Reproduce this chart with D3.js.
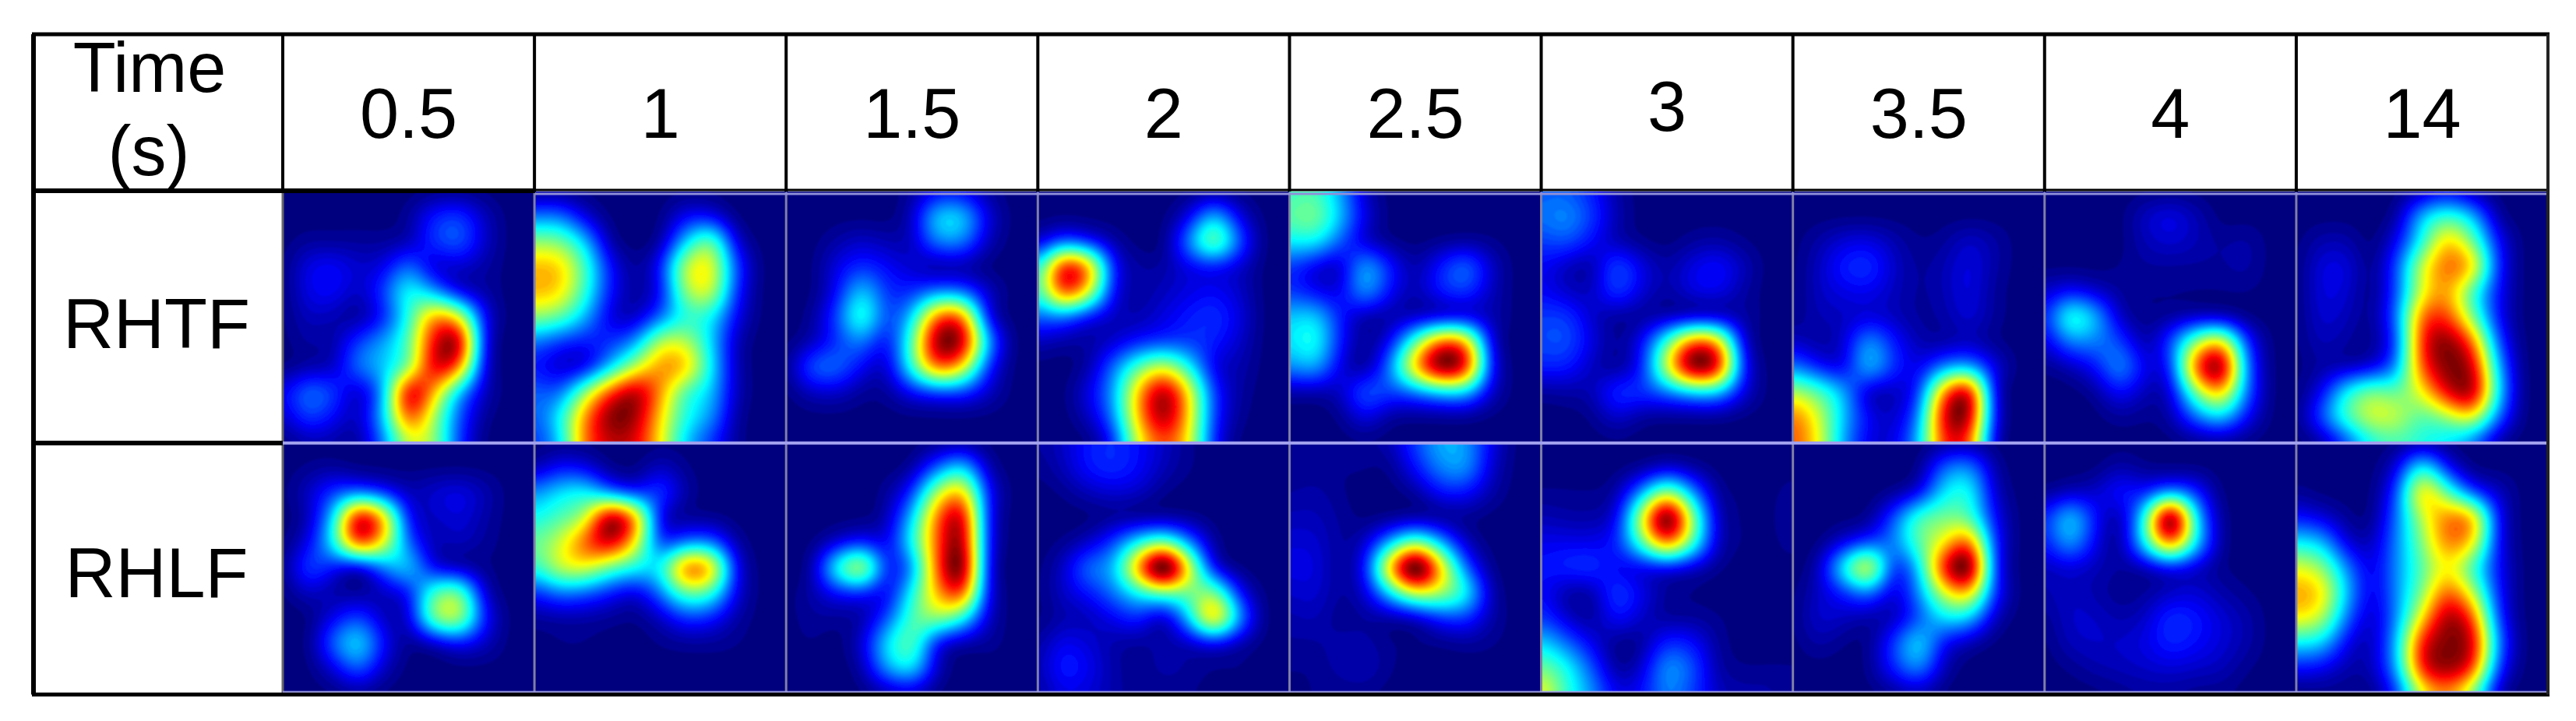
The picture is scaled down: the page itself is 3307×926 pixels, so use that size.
<!DOCTYPE html>
<html>
<head>
<meta charset="utf-8">
<script src="https://cdn.jsdelivr.net/npm/d3@7"></script>
<style>
html, body { margin: 0; padding: 0; background: #fff; }
svg { display: block; }
text { font-family: "Liberation Sans", Arial, sans-serif; fill: #000; }
</style>
</head>
<body>
<div id="vis"></div>
<script>
var times = ['0.5', '1', '1.5', '2', '2.5', '3', '3.5', '4', '14'];
var tracts = ['RHTF', 'RHLF'];

// each map: 11 rows x 11 columns of activation, 0-100
var rhtf_05 = [
[0,0,0,0,0,0,0,0,0,0,0],
[0,0,0,0,0,2,12,15,5,0,0],
[0,2,2,2,2,4,14,18,6,0,0],
[0,8,10,6,8,20,6,6,3,0,0],
[0,8,10,5,15,35,25,8,3,0,0],
[0,5,4,2,12,36,68,58,10,0,0],
[0,3,3,15,25,42,82,92,10,0,0],
[0,3,5,20,28,45,85,72,8,0,0],
[8,20,15,5,25,88,65,28,5,0,0],
[5,15,10,5,28,75,50,18,2,0,0],
[0,3,3,2,20,52,48,15,0,0,0]];
var rhtf_1 = [
[0,0,0,0,0,0,0,0,0,0,0],
[22,22,8,0,0,0,10,10,0,0,0],
[50,48,30,3,0,2,30,48,8,0,0],
[68,66,42,12,2,12,55,62,18,0,0],
[68,64,40,12,3,10,50,58,15,0,0],
[50,45,28,8,5,20,38,35,10,0,0],
[22,15,12,15,25,55,55,32,5,0,0],
[12,6,8,30,55,72,68,35,5,0,0],
[20,20,50,80,95,72,42,30,5,0,0],
[18,35,72,98,95,65,38,25,3,0,0],
[15,30,75,90,88,62,30,15,2,0,0]];
var rhtf_15 = [
[0,0,0,0,0,2,8,8,2,0,0],
[0,0,0,0,0,5,30,30,8,0,0],
[0,0,3,6,4,5,22,22,5,0,0],
[0,0,8,14,10,6,2,3,0,0,0],
[0,0,10,30,14,14,22,20,6,0,0],
[0,2,16,40,16,30,75,75,10,0,0],
[0,4,14,22,10,42,95,92,28,0,0],
[0,18,20,10,6,38,75,62,15,0,0],
[0,5,6,2,2,10,15,15,6,0,0],
[0,0,0,0,0,0,0,0,0,0,0],
[0,0,0,0,0,0,0,0,0,0,0]];
var rhtf_2 = [
[0,0,0,0,0,0,0,0,0,0,0],
[0,0,0,0,0,0,8,28,8,0,0],
[5,18,12,3,0,0,22,48,18,0,0],
[30,85,70,12,3,3,8,10,6,0,0],
[35,78,58,10,3,5,8,10,6,0,0],
[18,20,10,5,4,8,12,14,8,0,0],
[5,3,3,6,12,15,15,12,6,0,0],
[0,0,3,20,42,55,35,8,4,0,0],
[0,0,8,25,65,92,60,15,3,0,0],
[0,0,5,22,65,92,62,15,2,0,0],
[0,0,0,12,55,75,58,12,0,0,0]];
var rhtf_25 = [
[38,40,25,5,0,0,0,0,0,0,0],
[42,46,28,8,0,0,0,0,0,0,0],
[32,33,18,6,1,0,1,2,1,0,0],
[15,8,5,26,12,3,12,20,6,0,0],
[15,10,8,24,10,4,12,15,5,0,0],
[28,30,12,3,3,4,5,6,4,0,0],
[30,36,12,2,10,42,75,68,8,0,0],
[22,26,8,2,22,65,98,85,12,0,0],
[3,3,5,18,15,20,28,28,6,0,0],
[0,0,1,8,2,1,1,1,0,0,0],
[0,0,0,0,0,0,0,0,0,0,0]];
var rhtf_3 = [
[18,18,12,3,0,0,0,0,0,0,0],
[20,23,15,4,0,0,0,0,0,0,0],
[15,17,10,4,1,0,2,3,1,0,0],
[10,5,3,17,8,3,8,11,5,0,0],
[10,6,5,15,7,3,8,9,3,0,0],
[15,15,6,2,2,3,4,4,3,0,0],
[16,17,8,2,10,40,75,68,8,0,0],
[12,12,5,2,12,55,98,88,14,0,0],
[2,3,4,14,14,20,28,28,8,0,0],
[0,0,1,6,2,1,1,1,0,0,0],
[0,0,0,0,0,0,0,0,0,0,0]];
var rhtf_35 = [
[0,0,0,0,0,0,0,0,0,0,0],
[0,0,0,0,0,0,0,0,0,0,0],
[0,3,7,8,4,1,2,6,3,0,0],
[0,5,12,14,6,2,4,8,3,0,0],
[0,5,8,9,5,2,4,8,2,0,0],
[1,4,5,7,5,2,3,7,2,0,0],
[6,3,6,24,12,4,3,5,1,0,0],
[22,12,8,28,14,8,22,26,8,0,0],
[52,42,26,5,5,14,70,90,8,0,0],
[72,55,28,10,6,22,85,92,10,0,0],
[75,58,25,8,8,28,78,75,5,0,0]];
var rhtf_4 = [
[0,0,0,0,0,0,0,0,0,0,0],
[0,0,0,0,5,8,4,0,0,0,0],
[0,0,0,0,4,6,4,2,3,0,0],
[0,0,0,1,2,2,2,2,3,0,0],
[5,10,6,2,1,1,1,1,1,0,0],
[10,36,26,5,1,2,4,3,0,0,0],
[6,20,20,15,3,15,45,60,15,0,0],
[1,4,10,22,8,12,70,92,22,0,0],
[0,0,2,10,4,6,42,62,20,0,0],
[0,0,0,2,1,3,18,28,10,0,0],
[0,0,0,0,0,0,0,0,0,0,0]];
var rhtf_14 = [
[0,0,0,0,0,3,8,2,0,0,0],
[0,0,0,0,3,30,42,30,3,0,0],
[0,4,4,0,10,38,68,48,12,0,0],
[0,8,8,1,18,58,78,68,15,0,0],
[0,8,7,1,18,60,72,42,12,0,0],
[0,7,5,2,22,78,82,50,12,0,0],
[0,5,3,2,18,85,100,78,20,0,0],
[0,3,4,8,25,80,100,95,30,0,0],
[0,10,36,50,46,62,90,100,35,0,0],
[0,18,42,58,56,44,52,62,22,0,0],
[0,2,16,36,42,38,32,20,2,0,0]];
var rhlf_05 = [
[0,0,0,0,0,0,0,0,0,0,0],
[0,1,2,0,0,0,0,0,0,0,0],
[0,5,14,18,12,4,6,8,4,0,0],
[0,4,28,85,62,10,5,7,3,0,0],
[0,8,32,75,55,18,4,5,2,0,0],
[0,15,10,3,20,28,8,3,1,0,0],
[0,5,3,2,5,10,38,44,6,0,0],
[0,0,8,15,5,6,44,50,12,0,0],
[0,0,18,30,10,1,4,10,5,0,0],
[0,0,7,18,5,0,0,0,0,0,0],
[0,0,0,1,0,0,0,0,0,0,0]];
var rhlf_1 = [
[0,0,0,0,0,0,0,0,0,0,0],
[3,10,8,1,0,5,1,0,0,0,0],
[22,30,33,20,12,15,3,0,0,0,0],
[33,40,50,92,68,8,2,1,0,0,0],
[42,52,72,85,58,14,20,20,3,0,0],
[35,52,55,42,34,32,72,65,10,0,0],
[12,20,18,12,7,20,42,38,8,0,0],
[2,3,3,2,1,5,14,12,3,0,0],
[0,1,1,0,0,1,2,2,1,0,0],
[0,0,0,0,0,0,0,0,0,0,0],
[0,0,0,0,0,0,0,0,0,0,0]];
var rhlf_15 = [
[0,0,0,0,0,0,0,0,0,0,0],
[0,0,0,0,0,2,18,30,4,0,0],
[0,0,0,0,2,14,50,64,12,0,0],
[0,0,0,0,4,28,70,88,12,0,0],
[0,0,6,12,8,34,72,92,12,0,0],
[0,2,35,55,12,22,72,98,10,0,0],
[0,3,10,12,8,34,64,78,10,0,0],
[0,2,2,3,16,40,48,36,6,0,0],
[0,1,0,6,30,42,10,3,2,0,0],
[0,0,0,3,24,32,5,0,0,0,0],
[0,0,0,0,2,4,0,0,0,0,0]];
var rhlf_2 = [
[2,5,10,12,9,5,1,0,0,0,0],
[1,4,10,12,9,4,1,0,0,0,0],
[0,1,4,6,5,1,0,0,0,0,0],
[0,0,0,1,1,1,1,0,0,0,0],
[0,1,5,14,30,40,20,2,0,0,0],
[0,5,18,24,62,100,52,8,0,0,0],
[0,5,10,18,30,38,38,42,10,0,0],
[0,3,4,8,12,4,26,60,22,0,0],
[2,8,6,3,2,3,4,8,3,0,0],
[3,11,8,3,1,3,2,1,1,0,0],
[2,7,6,3,1,1,1,0,0,0,0]];
var rhlf_25 = [
[2,2,2,2,4,14,24,22,8,0,0],
[1,1,1,1,1,10,20,22,6,0,0],
[2,3,1,0,0,2,10,10,3,0,0],
[4,4,2,0,0,1,1,1,0,0,0],
[6,6,2,5,24,42,24,5,0,0,0],
[7,7,2,10,60,100,58,18,1,0,0],
[5,6,2,6,28,50,46,32,4,0,0],
[3,4,1,2,2,4,12,13,3,0,0],
[2,2,3,3,1,1,1,2,1,0,0],
[1,1,3,4,1,0,0,0,0,0,0],
[0,1,1,1,0,0,0,0,0,0,0]];
var rhlf_3 = [
[0,0,0,0,0,0,0,0,0,0,0],
[0,0,0,0,1,5,2,0,0,0,0],
[1,1,1,3,22,46,22,2,1,0,2],
[4,3,3,8,50,96,45,5,1,0,3],
[8,8,8,12,38,68,38,5,1,0,2],
[10,12,13,8,7,8,5,1,0,0,0],
[10,3,3,14,8,2,1,0,0,0,0],
[14,6,2,10,5,2,2,1,0,0,0],
[28,18,8,1,2,12,10,2,0,0,0],
[42,32,16,2,6,22,16,3,1,1,1],
[55,35,22,8,10,20,14,5,3,3,1]];
var rhlf_35 = [
[0,0,0,0,0,0,0,0,0,0,0],
[0,0,0,0,0,0,18,22,3,0,0],
[0,0,0,0,1,8,30,34,6,0,0],
[0,0,0,1,16,38,43,40,10,0,0],
[0,0,7,15,20,40,56,72,14,0,0],
[0,4,32,58,12,28,78,98,15,0,0],
[0,5,12,20,6,22,52,62,14,0,0],
[0,6,5,3,4,16,30,28,5,0,0],
[0,3,1,1,14,30,10,4,0,0,0],
[0,0,0,1,12,22,4,0,0,0,0],
[0,0,0,0,1,3,0,0,0,0,0]];
var rhlf_4 = [
[0,0,0,0,0,0,0,0,0,0,0],
[0,0,0,3,1,0,0,0,0,0,0],
[1,4,5,10,10,20,12,0,0,0,0],
[10,26,10,3,32,92,28,2,0,0,0],
[9,22,8,2,30,65,28,2,0,0,0],
[4,6,4,2,3,8,5,1,0,0,0],
[3,5,3,1,2,5,6,3,1,0,0],
[1,5,5,3,5,12,10,6,3,0,0],
[0,4,5,5,7,11,9,6,3,0,0],
[0,1,3,4,5,6,5,4,1,0,0],
[0,0,0,1,2,2,1,1,0,0,0]];
var rhlf_14 = [
[0,0,0,0,0,0,0,0,0,0,0],
[0,0,0,0,8,38,12,0,0,0,0],
[2,0,0,0,18,68,45,18,6,0,0],
[12,8,2,1,22,56,76,72,12,0,0],
[35,30,8,5,24,50,76,66,12,0,0],
[60,52,24,8,25,45,64,42,12,0,0],
[72,66,30,8,25,50,80,58,14,0,0],
[64,56,22,6,25,65,98,82,18,0,0],
[35,32,10,5,30,88,100,95,25,0,0],
[12,10,4,5,28,88,100,85,18,0,0],
[0,1,1,1,15,58,72,48,5,0,0]];
var maps = {
	RHTF: [rhtf_05, rhtf_1, rhtf_15, rhtf_2, rhtf_25, rhtf_3, rhtf_35, rhtf_4, rhtf_14],
	RHLF: [rhlf_05, rhlf_1, rhlf_15, rhlf_2, rhlf_25, rhlf_3, rhlf_35, rhlf_4, rhlf_14]
};

var width = 3307, height = 926;
var table = { left: 43, right: 3271, top: 44, head: 246, bottom: 892, labelRight: 363 };
var svg = d3.select('#vis').append('svg').attr('width', width).attr('height', height);
var x_scale = d3.scaleBand().domain(times).range([table.labelRight, table.right]);
var y_scale = d3.scaleBand().domain(tracts).range([table.head, table.bottom - 2]);
var jet = d3.scaleLinear()
	.domain([0, 0.11, 0.36, 0.5, 0.63, 0.88, 1])
	.range(['#00007f', '#0000ff', '#00ffff', '#7fff7f', '#ffff00', '#ff0000', '#7f0000'])
	.clamp(true);

// catmull-rom resample then blur, the picture is a smooth image and not blocks
var factor = 10;
function cr(a, b, c, d, t) {
	return 0.5 * (2 * b + (c - a) * t + (2 * a - 5 * b + 4 * c - d) * t * t + (3 * b - a - 3 * c + d) * t * t * t);
}
function resample(grid) {
	var n = grid.length, m = (n - 1) * factor + 1, out = new Float64Array(m * m);
	function at(r, c) {
		return grid[Math.max(0, Math.min(n - 1, r))][Math.max(0, Math.min(n - 1, c))] / 100;
	}
	for (var j = 0; j < m; j++) {
		var r = Math.min(n - 2, Math.floor(j / factor)), tr = j / factor - r;
		for (var i = 0; i < m; i++) {
			var c = Math.min(n - 2, Math.floor(i / factor)), tc = i / factor - c, col = [];
			for (var k = -1; k < 3; k++) {
				col.push(cr(at(r + k, c - 1), at(r + k, c), at(r + k, c + 1), at(r + k, c + 2), tc));
			}
			out[j * m + i] = Math.max(0, Math.min(1, cr(col[0], col[1], col[2], col[3], tr)));
		}
	}
	var before = d3.max(out);
	d3.blur2({ data: out, width: m, height: m }, 3);
	var gain = before / d3.max(out);
	for (var p = 0; p < out.length; p++) out[p] = Math.min(1, out[p] * gain);
	return { values: Array.from(out), size: m };
}

var defs = svg.append('defs');
defs.append('filter').attr('id', 'soft').attr('x', '-5%').attr('y', '-5%').attr('width', '110%').attr('height', '110%')
	.append('feGaussianBlur').attr('stdDeviation', 1.2);

var levels = d3.range(0.01, 1, 1 / 60);
tracts.forEach(function(tract, ti) {
	times.forEach(function(time, ci) {
		var px = x_scale(time), py = y_scale(tract), w = x_scale.bandwidth(), h = y_scale.bandwidth();
		var id = 'clip' + ti + '_' + ci;
		defs.append('clipPath').attr('id', id).append('rect').attr('x', px).attr('y', py).attr('width', w).attr('height', h);
		var g = svg.append('g').attr('class', 'panel').attr('clip-path', 'url(#' + id + ')');
		g.append('rect').attr('x', px).attr('y', py).attr('width', w).attr('height', h).attr('fill', jet(0));
		var fine = resample(maps[tract][ci]);
		var sx = d3.scaleLinear().domain([0.5, fine.size - 0.5]).range([px, px + w]);
		var sy = d3.scaleLinear().domain([0.5, fine.size - 0.5]).range([py, py + h]);
		var path = d3.geoPath(d3.geoTransform({
			point: function(a, b) {
				this.stream.point(sx(a), sy(b));
			}
		}));
		var bands = d3.contours().size([fine.size, fine.size]).thresholds(levels)(fine.values);
		g.append('g').attr('filter', 'url(#soft)').selectAll('path').data(bands).enter().append('path')
			.attr('d', path)
			.attr('fill', function(d) {
				return jet(d.value + 1 / 120);
			});
	});
});

// table rules
var rules = svg.append('g');
function rule(x1, y1, x2, y2, colour, w) {
	rules.append('line').attr('x1', x1).attr('y1', y1).attr('x2', x2).attr('y2', y2)
		.attr('stroke', colour).attr('stroke-width', w);
}
x_scale.domain().slice(1).forEach(function(t) {
	rule(x_scale(t), table.head + 1, x_scale(t), table.bottom - 2, '#7f7fa6', 3);
	rule(x_scale(t), table.top, x_scale(t), table.head, '#000', 4);
});
rule(table.labelRight, table.top, table.labelRight, table.head, '#000', 4);
rule(table.labelRight, table.head, table.labelRight, table.bottom, '#666', 3);
rule(table.labelRight + 324, table.head + 3, table.right, table.head + 3, '#8f8fd8', 3);
rule(table.left, table.head - 1, table.labelRight + 324, table.head - 1, '#000', 6);
rule(table.labelRight + 324, table.head - 2, table.right, table.head - 2, '#000', 3);
rule(table.left, 569, table.labelRight, 569, '#000', 6);
rule(table.labelRight, 569, table.right, 569, '#a0a0ee', 4);
rule(table.labelRight, table.bottom - 3, table.right, table.bottom - 3, '#a0a0e6', 3);
rule(table.left - 2, table.bottom, table.right + 2, table.bottom, '#000', 5);
rule(table.left - 2, table.top, table.right + 2, table.top, '#000', 5);
rule(table.left, table.top, table.left, table.bottom, '#000', 6);
rule(table.right, table.top, table.right, table.bottom, '#222', 4);

// labels
var fontSize = 90;
svg.append('g').selectAll('text').data(times).enter().append('text')
	.attr('x', function(d) {
		return x_scale(d) + x_scale.bandwidth() / 2;
	})
	.attr('y', function(d) {
		return d == '3' ? 168 : 177;
	})
	.attr('text-anchor', 'middle').attr('font-size', fontSize)
	.text(function(d) {
		return d;
	});
svg.append('text').attr('x', 192).attr('y', 118).attr('text-anchor', 'middle').attr('font-size', fontSize).text('Time');
svg.append('text').attr('x', 191).attr('y', 225).attr('text-anchor', 'middle').attr('font-size', fontSize).text('(s)');
svg.append('g').selectAll('text').data(tracts).enter().append('text')
	.attr('x', 201)
	.attr('y', function(d) {
		return d == 'RHTF' ? 447 : 767;
	})
	.attr('text-anchor', 'middle').attr('font-size', fontSize)
	.text(function(d) {
		return d;
	});
</script>
</body>
</html>
